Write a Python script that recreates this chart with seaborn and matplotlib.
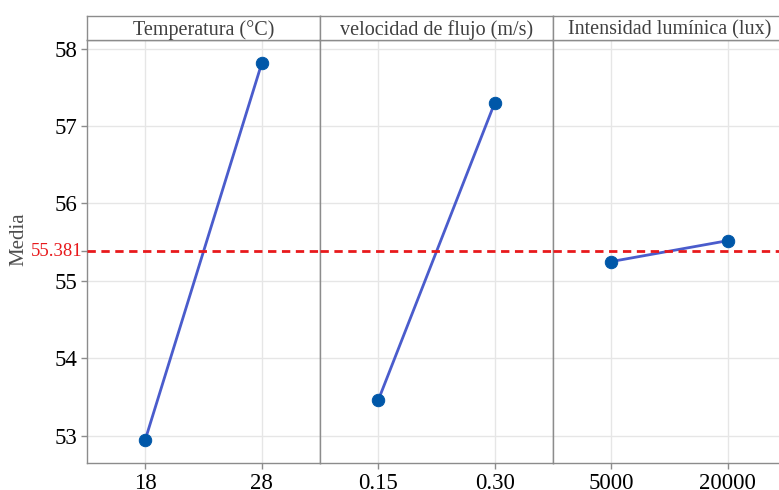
import matplotlib
matplotlib.use("Agg")
import matplotlib.pyplot as plt
import matplotlib.transforms as mtransforms
import seaborn as sns
import pandas as pd

factors = ["Temperatura (°C)", "velocidad de flujo (m/s)", "Intensidad lumínica (lux)"]
levels = [["18", "28"], ["0.15", "0.30"], ["5000", "20000"]]
means = [[52.95, 57.81], [53.46, 57.30], [55.25, 55.52]]
grand_mean = 55.381
y_ticks = [53, 54, 55, 56, 57, 58]

sns.set_theme(style="white")
plt.rcParams["font.family"] = ["Liberation Serif", "DejaVu Serif"]

fig = plt.figure(figsize=(7.79, 4.9), dpi=100)
left, width = 87 / 779, 233 / 779
bottom, height = 1 - 463 / 490, (463 - 40) / 490
strip_h = 24 / 490

line_col = "#4a5ccc"
pt_col = "#0057a8"
red = "#e8191c"
grid_col = "#e6e6e6"
frame_col = "#8c8c8c"

axes = []
for i, (fac, lv, mv) in enumerate(zip(factors, levels, means)):
    ax = fig.add_axes([left + i * width, bottom, width, height])
    axes.append(ax)
    df = pd.DataFrame({"nivel": lv, "media": mv})
    ax.set_axisbelow(True)
    sns.lineplot(data=df, x="nivel", y="media", ax=ax, color=line_col,
                 linewidth=2, sort=False, zorder=3)
    sns.scatterplot(data=df, x="nivel", y="media", ax=ax, color=pt_col,
                    s=80, edgecolor=pt_col, zorder=4)
    ax.axhline(grand_mean, color=red, linestyle=(0, (3, 2)), linewidth=2, zorder=5)
    ax.set_xlim(-0.5, 1.5)
    ax.set_ylim(52.65, 58.11)
    ax.set_yticks(y_ticks + [grand_mean])
    ax.set_yticklabels([str(t) for t in y_ticks] + [""])
    ax.grid(True, color=grid_col, linewidth=1)
    ax.yaxis.get_gridlines()[-1].set_visible(False)
    ax.set_xlabel("")
    ax.set_ylabel("")
    for s in ax.spines.values():
        s.set_color(frame_col)
        s.set_linewidth(1)
    ax.tick_params(axis="x", labelsize=16.5, colors=frame_col, labelcolor="black",
                   length=4, width=1, bottom=True, pad=3)
    ax.tick_params(axis="y", labelsize=16.5, colors=frame_col, labelcolor="black",
                   length=4, width=1, left=(i == 0), labelleft=(i == 0), pad=3)
    # strip
    sax = fig.add_axes([left + i * width, bottom + height, width, strip_h])
    sax.set_xticks([])
    sax.set_yticks([])
    for s in sax.spines.values():
        s.set_color(frame_col)
        s.set_linewidth(1)
    sax.set_facecolor("white")
    sax.text(0.5, 0.42, fac, ha="center", va="center", fontsize=14.5, color="#404040",
             transform=sax.transAxes)

ax0 = axes[0]
ax0.yaxis.get_major_ticks()[-1].tick1line.set_color(red)
trans = mtransforms.blended_transform_factory(ax0.transAxes, ax0.transData)
ax0.text(-0.021, grand_mean, f"{grand_mean:.3f}", color=red, fontsize=13.5,
         ha="right", va="center", transform=trans)

fig.text(19 / 779, 1 - 239 / 490, "Media", rotation=90, ha="center", va="center",
         fontsize=15, color="#4d4d4d")

fig.savefig("out.png", dpi=100)
